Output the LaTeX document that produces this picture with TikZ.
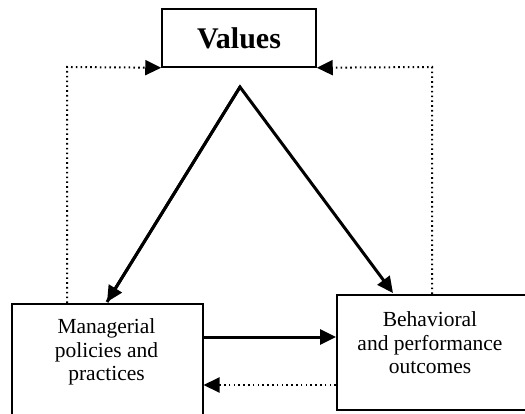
\documentclass[tikz,border=0pt]{standalone}
\usepackage{fontspec}
\setmainfont{Liberation Serif}
\usetikzlibrary{arrows.meta}
\begin{document}
\begin{tikzpicture}[x=1pt,y=-1pt,
  box/.style={draw,line width=1.5pt,inner sep=0pt},
  solidarrow/.style={line width=3pt,-{Triangle[length=16pt,width=15pt]}},
  dotarrow/.style={line width=2pt,dash pattern=on 1.6pt off 3.2pt,-{Triangle[length=16pt,width=15pt,sep=0pt]}},
  lbl/.style={align=center,inner sep=0pt,font=\fontsize{21.5}{23.5}\selectfont}]
\useasboundingbox (0,0) rectangle (525,414);
\node[box,minimum width=154pt,minimum height=58pt] (values) at (239,38) {\fontsize{30}{32}\selectfont\bfseries Values};
\node[box,minimum width=191pt,minimum height=140pt,anchor=north west] (mgr) at (11,303) {};
\node[box,minimum width=200pt,minimum height=115pt,anchor=north west] (rbox) at (336,294) {};
\node[lbl] (mgrtext) at (106.5,352) {Managerial\\policies and\\practices};
\node[lbl] (rtext) at (430,343) {Behavioral\\and performance\\outcomes};
% triangle arrows
\coordinate (apex) at (240,87);
\coordinate (ltip) at (107,302);
\coordinate (rtip) at (393,293);
\draw[solidarrow,line join=miter] (ltip) -- (apex) -- (rtip);
\draw[solidarrow] (apex) -- (ltip);
% dotted feedback to values
\coordinate (lcorner) at (67,67);
\coordinate (rcorner) at (432,67);
\draw[dotarrow] (lcorner |- mgr.north) -- (lcorner) -- (values.south west);
\draw[dotarrow] (rcorner |- rbox.north) -- (rcorner) -- (values.south east);
% horizontal arrows
\coordinate (hsolid) at (0,337);
\coordinate (hdot) at (0,385);
\draw[solidarrow] (mgr.east |- hsolid) -- (rbox.west |- hsolid);
\draw[dotarrow] (rbox.west |- hdot) -- (mgr.east |- hdot);
\end{tikzpicture}
\end{document}
